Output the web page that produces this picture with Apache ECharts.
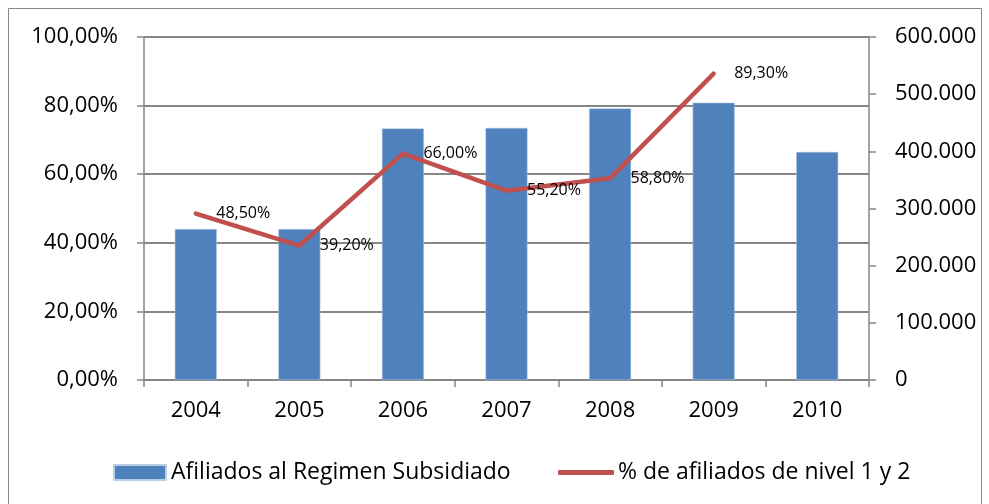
<!DOCTYPE html>
<html><head><meta charset="utf-8">
<script src="https://cdn.jsdelivr.net/npm/echarts@6/dist/echarts.min.js"></script>
<style>html,body{margin:0;padding:0;background:#fff}#c{width:989px;height:504px}</style>
</head><body><div id="c"></div>
<script>
const categories = ['2004','2005','2006','2007','2008','2009','2010'];
const afiliados = [264000, 264000, 440000, 441000, 475000, 485000, 399000];
const porcentaje = [48.5, 39.2, 66.0, 55.2, 58.8, 89.3, null];
const barName = 'Afiliados al Regimen Subsidiado';
const lineName = '% de afiliados de nivel 1 y 2';

const FONT = 'Open Sans';
const chart = echarts.init(document.getElementById('c'));
const pct = v => v.toFixed(2).replace('.', ',') + '%';
const thousands = v => v === 0 ? '0' : String(v).replace(/\B(?=(\d{3})+(?!\d))/g, '.');
chart.setOption({
  animation: false,
  textStyle: {fontFamily: FONT, color: '#000'},
  graphic: [{type: 'rect', shape: {x: 8.5, y: 8.5, width: 973, height: 520}, style: {fill: 'none', stroke: '#868686', lineWidth: 1}, silent: true}],
  grid: {left: 144, right: 120, top: 37, bottom: 124},
  legend: [
    {data: [{name: barName, icon: 'rect'}], left: 108, top: 456, itemWidth: 52, itemHeight: 15, itemGap: 0,
     textStyle: {fontFamily: FONT, fontSize: 23, color: '#000', padding: [0,0,0,0]}},
    {data: [{name: lineName, icon: 'roundRect'}], left: 553, top: 456, itemWidth: 56, itemHeight: 5, itemGap: 0,
     textStyle: {fontFamily: FONT, fontSize: 23, color: '#000', padding: [0,0,0,-1]}}
  ],
  xAxis: {
    type: 'category', data: categories, boundaryGap: true,
    axisLine: {lineStyle: {color: '#868686', width: 1.5}},
    axisTick: {show: true, length: 7, lineStyle: {color: '#868686', width: 1.5}},
    axisLabel: {fontFamily: FONT, fontSize: 22, color: '#000', margin: 20}
  },
  yAxis: [
    {type: 'value', min: 0, max: 100, interval: 20, position: 'left',
     axisLine: {show: true, lineStyle: {color: '#868686', width: 1.5}},
     axisTick: {show: true, length: 7, lineStyle: {color: '#868686', width: 1.5}},
     splitLine: {show: true, lineStyle: {color: '#868686', width: 2}},
     axisLabel: {fontFamily: FONT, fontSize: 22, color: '#000', margin: 26, formatter: v => pct(v)}},
    {type: 'value', min: 0, max: 600000, interval: 100000, position: 'right',
     axisLine: {show: true, lineStyle: {color: '#868686', width: 1.5}},
     axisTick: {show: true, length: 7, lineStyle: {color: '#868686', width: 1.5}},
     splitLine: {show: false},
     axisLabel: {fontFamily: FONT, fontSize: 22, color: '#000', margin: 26, formatter: v => thousands(v)}}
  ],
  series: [
    {name: barName, type: 'bar', yAxisIndex: 1, data: afiliados, barWidth: 42,
     itemStyle: {color: '#4F81BD', borderColor: '#B9CDE5', borderWidth: 0.5}, z: 2},
    {name: lineName, type: 'line', yAxisIndex: 0, data: porcentaje, z: 3,
     symbol: 'circle', symbolSize: 1, showSymbol: true,
     lineStyle: {color: '#C0504D', width: 4.5, cap: 'round', join: 'round'},
     itemStyle: {color: '#C0504D'},
     label: {show: true, position: 'right', distance: 20, fontFamily: FONT, fontSize: 16, color: '#000', formatter: p => pct(p.value)}}
  ]
});
</script></body></html>
